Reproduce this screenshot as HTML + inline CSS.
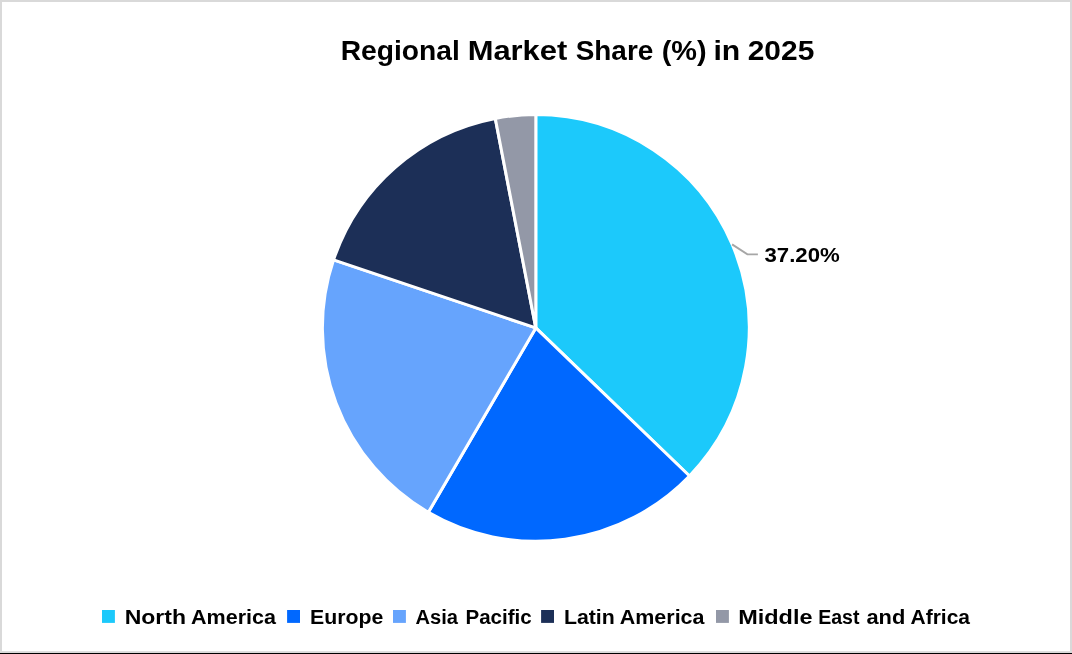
<!DOCTYPE html>
<html><head><meta charset="utf-8"><title>Regional Market Share (%) in 2025</title>
<style>
html,body{margin:0;padding:0;background:#fff;}
body{width:1072px;height:654px;overflow:hidden;position:relative;font-family:"Liberation Sans",sans-serif;}
svg{position:absolute;left:0;top:0;display:block;will-change:transform;}
text{font-family:"Liberation Sans",sans-serif;font-weight:bold;fill:#000;}
</style></head><body>
<svg width="1072" height="654" viewBox="0 0 1072 654">
<rect x="0" y="0" width="1072" height="654" fill="#fff"/>
<!-- frame -->
<rect x="0" y="0" width="1072" height="2" fill="#d9d9d9"/>
<rect x="0" y="0" width="2" height="654" fill="#d9d9d9"/>
<rect x="1070" y="0" width="2" height="654" fill="#d9d9d9"/>
<rect x="0" y="651" width="1072" height="1" fill="#dedede"/>
<rect x="0" y="652" width="1072" height="1" fill="#d8d8d8"/>
<rect x="0" y="653" width="1072" height="1" fill="#000"/>
<!-- pie -->
<path d="M535.8,327.95 L535.80,114.55 A213.4,213.4 0 0 1 689.51,475.98 Z" fill="#1cc9fb" stroke="#fff" stroke-width="3.0" stroke-linejoin="round"/>
<path d="M535.8,327.95 L689.51,475.98 A213.4,213.4 0 0 1 428.33,512.31 Z" fill="#0068ff" stroke="#fff" stroke-width="3.0" stroke-linejoin="round"/>
<path d="M535.8,327.95 L428.33,512.31 A213.4,213.4 0 0 1 333.56,259.84 Z" fill="#66a4fd" stroke="#fff" stroke-width="3.0" stroke-linejoin="round"/>
<path d="M535.8,327.95 L333.56,259.84 A213.4,213.4 0 0 1 495.29,118.43 Z" fill="#1c2f57" stroke="#fff" stroke-width="3.0" stroke-linejoin="round"/>
<path d="M535.8,327.95 L495.29,118.43 A213.4,213.4 0 0 1 535.80,114.55 Z" fill="#9398a7" stroke="#fff" stroke-width="3.0" stroke-linejoin="round"/>
<!-- leader line -->
<polyline points="732.1,244.4 747.4,254.4 757.9,254.4" fill="none" stroke="#a6a6a6" stroke-width="1.9"/>
<!-- title, data label, legend text -->
<text x="340.69" y="60.4" font-size="27.8" textLength="119.13" lengthAdjust="spacingAndGlyphs">Regional</text>
<text x="467.70" y="60.4" font-size="27.8" textLength="99.56" lengthAdjust="spacingAndGlyphs">Market</text>
<text x="575.73" y="60.4" font-size="27.8" textLength="77.54" lengthAdjust="spacingAndGlyphs">Share</text>
<text x="661.65" y="60.4" font-size="27.8" textLength="44.94" lengthAdjust="spacingAndGlyphs">(%)</text>
<text x="713.44" y="60.4" font-size="27.8" textLength="26.83" lengthAdjust="spacingAndGlyphs">in</text>
<text x="747.72" y="60.4" font-size="27.8" textLength="66.56" lengthAdjust="spacingAndGlyphs">2025</text>
<text x="764.49" y="262.3" font-size="21" textLength="75.27" lengthAdjust="spacingAndGlyphs">37.20%</text>
<text x="124.68" y="624.4" font-size="20.3" textLength="61.39" lengthAdjust="spacingAndGlyphs">North</text>
<text x="191.00" y="624.4" font-size="20.3" textLength="85.00" lengthAdjust="spacingAndGlyphs">America</text>
<text x="309.96" y="624.4" font-size="20.3" textLength="73.32" lengthAdjust="spacingAndGlyphs">Europe</text>
<text x="415.50" y="624.4" font-size="20.3" textLength="42.50" lengthAdjust="spacingAndGlyphs">Asia</text>
<text x="465.46" y="624.4" font-size="20.3" textLength="66.31" lengthAdjust="spacingAndGlyphs">Pacific</text>
<text x="563.92" y="624.4" font-size="20.3" textLength="50.90" lengthAdjust="spacingAndGlyphs">Latin</text>
<text x="619.75" y="624.4" font-size="20.3" textLength="84.75" lengthAdjust="spacingAndGlyphs">America</text>
<text x="738.20" y="624.4" font-size="20.3" textLength="74.33" lengthAdjust="spacingAndGlyphs">Middle</text>
<text x="818.20" y="624.4" font-size="20.3" textLength="41.31" lengthAdjust="spacingAndGlyphs">East</text>
<text x="866.47" y="624.4" font-size="20.3" textLength="38.85" lengthAdjust="spacingAndGlyphs">and</text>
<text x="910.49" y="624.4" font-size="20.3" textLength="59.50" lengthAdjust="spacingAndGlyphs">Africa</text>
<!-- legend markers -->
<rect x="102" y="610" width="12.9" height="12.9" fill="#1cc9fb"/>
<rect x="287.1" y="610" width="12.9" height="12.9" fill="#0068ff"/>
<rect x="393.0" y="610" width="12.9" height="12.9" fill="#66a4fd"/>
<rect x="541.1" y="610" width="12.9" height="12.9" fill="#1c2f57"/>
<rect x="716.0" y="610" width="12.9" height="12.9" fill="#9398a7"/>
</svg>
</body></html>
